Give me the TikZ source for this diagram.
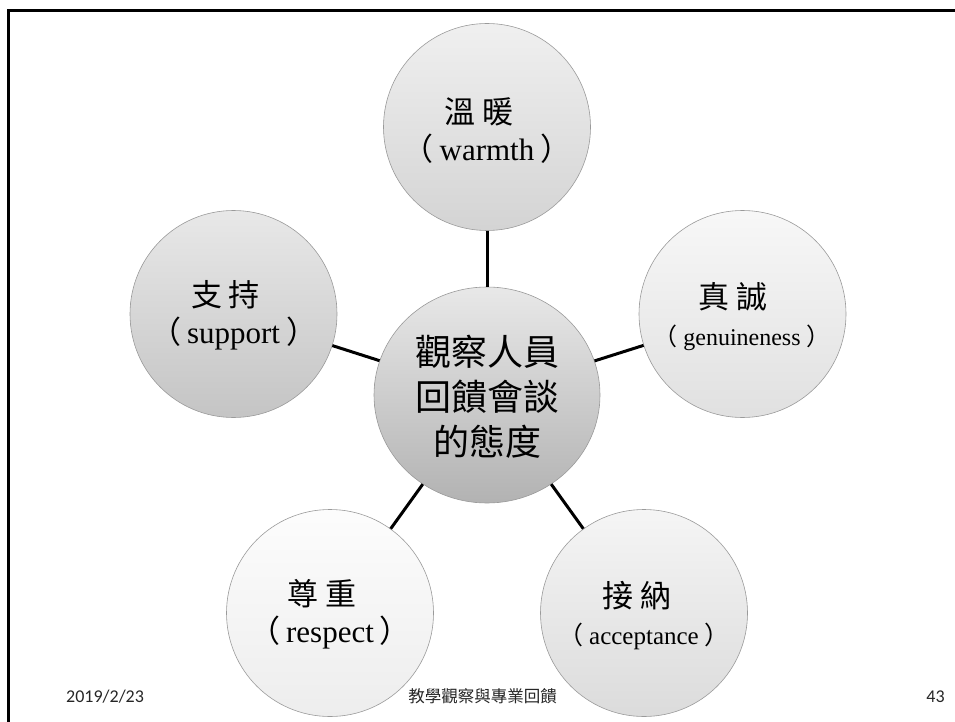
\documentclass[tikz,border=0pt]{standalone}
\usepackage{fontspec}
\setmainfont{Liberation Serif}
\newfontfamily\cjkfont{Noto Sans CJK TC}
\newfontfamily\calfont{Carlito}
\usetikzlibrary{shapes.geometric}
\definecolor{ringgray}{HTML}{9A9A9A}
\definecolor{foot}{HTML}{262626}
\newcommand\parword[1]{{\cjkfont （}\kern6pt #1\kern6pt{\cjkfont ）}}
\begin{document}
\begin{tikzpicture}[x=1pt,y=-1pt,
  bubble/.style={circle, draw=ringgray, line width=0.6pt, minimum size=207pt, inner sep=0pt},
  hub/.style={ellipse, draw=ringgray, line width=0.6pt, minimum width=226pt, minimum height=216pt, inner sep=0pt},
  link/.style={line width=3pt, black},
  lbl/.style={align=center, inner sep=0pt, font=\fontsize{31}{37}\selectfont},
  hublbl/.style={align=center, inner sep=0pt, font=\fontsize{36}{45}\selectfont\cjkfont},
  footer/.style={inner sep=0pt, text=foot}
]
\useasboundingbox (0,0) rectangle (955,722);
% frame
\draw[line width=2.7pt] (8.3,722) -- (8.3,10.3) -- (955,10.3);

% circles
\node[hub, top color=black!9, bottom color=black!30] (hubc) at (487,395) {};
\node[bubble, top color=black!6, bottom color=black!17] (warm) at (487,127) {};
\node[bubble, top color=black!9, bottom color=black!23] (supp) at (233.5,314) {};
\node[bubble, top color=black!3, bottom color=black!12] (genu) at (742.5,314) {};
\node[bubble, top color=black!1, bottom color=black!7] (resp) at (330,613) {};
\node[bubble, top color=black!4, bottom color=black!14] (acce) at (644,613) {};

% connectors
\draw[link] (warm) -- (hubc);
\draw[link] (supp) -- (hubc);
\draw[link] (genu) -- (hubc);
\draw[link] (resp) -- (hubc);
\draw[link] (acce) -- (hubc);

% labels
\node[hublbl] (hubt) at (487,397) {觀察人員\\回饋會談\\的態度};
\node[lbl] (warmt) at (487,131) {\hbox{\cjkfont 溫\kern7pt 暖\kern16pt}\\\parword{warmth}};
\node[lbl] (suppt) at (233.5,315) {\hbox{\cjkfont 支\kern7pt 持\kern16pt}\\\parword{support}};
\node[lbl] (genut) at (742,317) {\hbox{\cjkfont 真\kern7pt 誠\kern18pt}\\{\fontsize{24}{30}\selectfont\parword{genuineness}}};
\node[lbl] (respt) at (330,614) {\hbox{\cjkfont 尊\kern7pt 重\kern16pt}\\\parword{respect}};
\node[lbl] (accet) at (644,616) {\hbox{\cjkfont 接\kern7pt 納\kern14pt}\\{\fontsize{25}{31}\selectfont\parword{acceptance}}};

% footer
\node[footer, anchor=west, font=\calfont\fontsize{18}{20}\selectfont] (date) at (66,696.5) {2019/2/23};
\node[footer, font=\cjkfont\fontsize{16.5}{20}\selectfont] (title) at (482.5,696.5) {教學觀察與專業回饋};
\node[footer, font=\calfont\fontsize{18}{20}\selectfont] (page) at (935.5,696.5) {43};
\end{tikzpicture}
\end{document}
